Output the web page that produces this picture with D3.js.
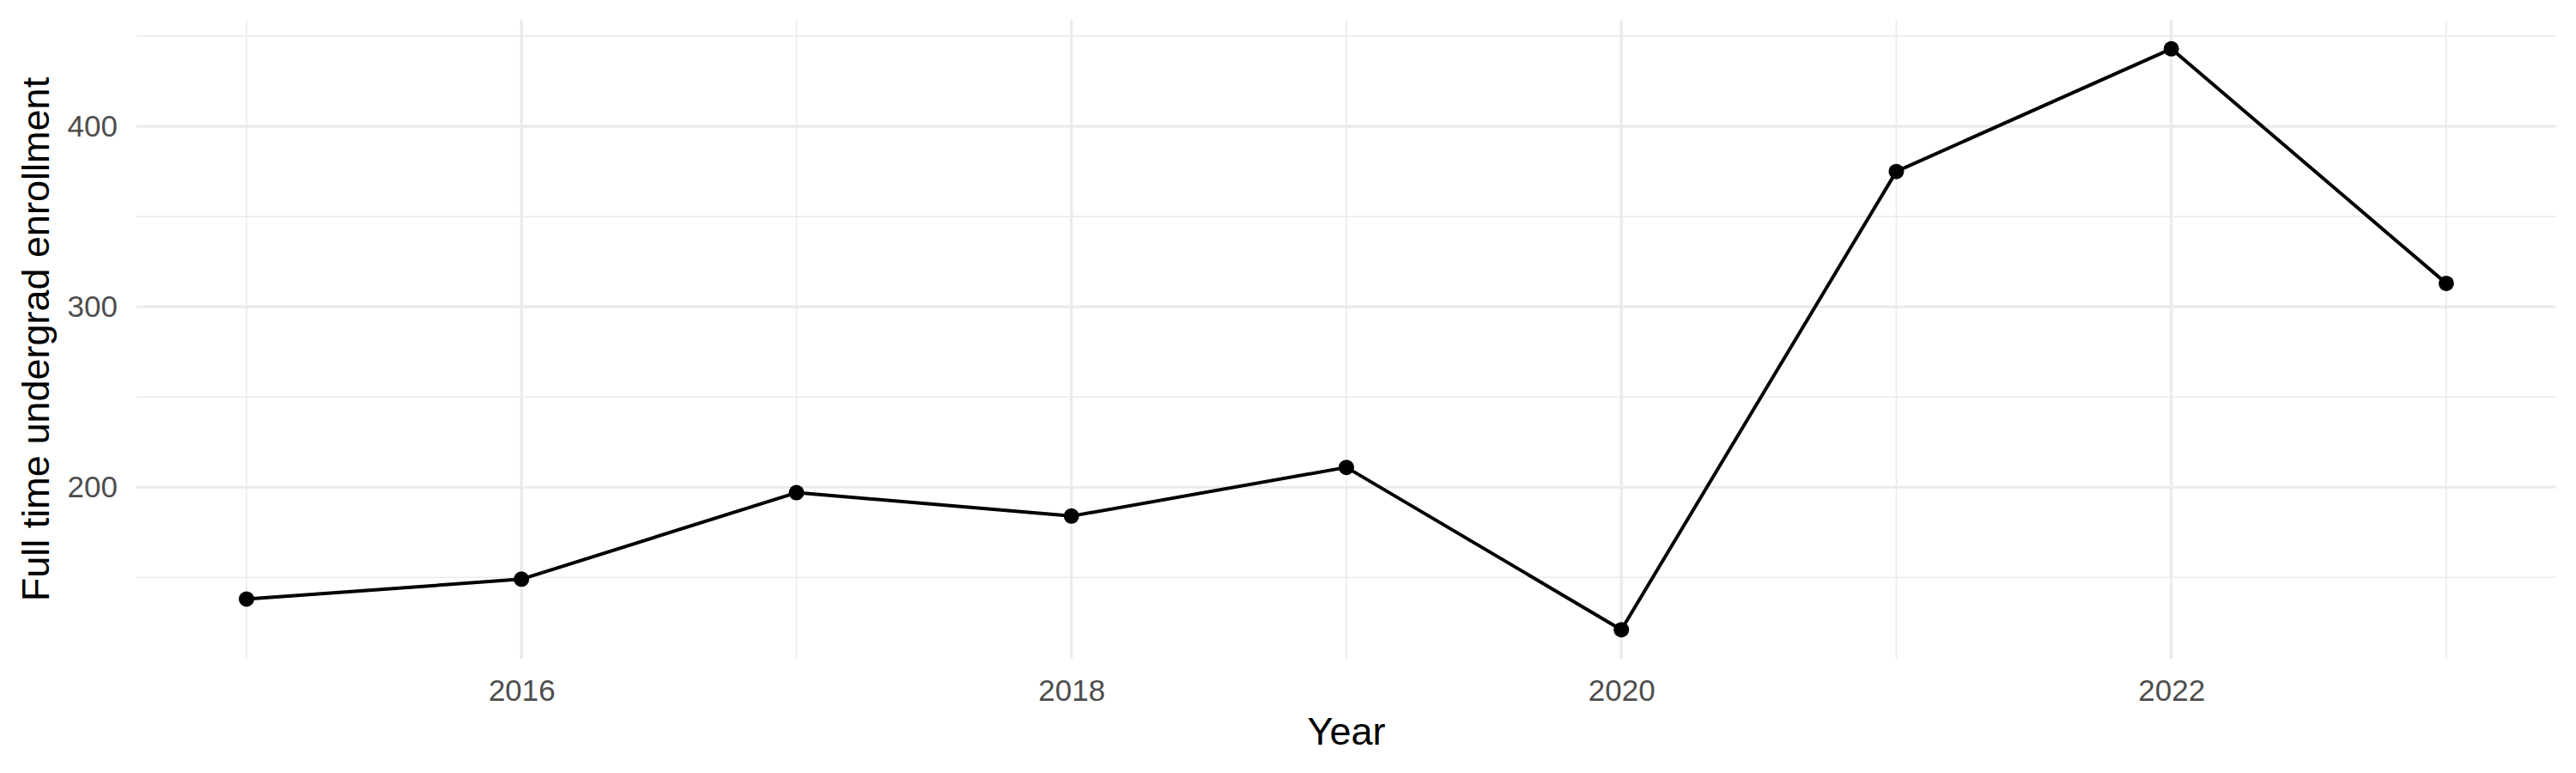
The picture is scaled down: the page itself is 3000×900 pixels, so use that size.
<!DOCTYPE html>
<html>
<head>
<meta charset="utf-8">
<script src="https://cdn.jsdelivr.net/npm/d3@7"></script>
<style>
  html, body { margin: 0; padding: 0; background: #fff; }
  text { font-family: "Liberation Sans", Arial, sans-serif; }
</style>
</head>
<body>
<div id="chart"></div>
<script>
// data
const years = [2015, 2016, 2017, 2018, 2019, 2020, 2021, 2022, 2023];
const enrollment = [138, 149, 197, 184, 211, 121, 375, 443, 313];

const xMajor = [2016, 2018, 2020, 2022];
const xMinor = [2015, 2017, 2019, 2021, 2023];
const yMajor = [200, 300, 400];
const yMinor = [150, 250, 350, 450];

const width = 3000, height = 900;
const panel = { left: 159, right: 2977, top: 23, bottom: 767 };

const svg = d3.select("#chart")
  .append("svg")
  .attr("width", width)
  .attr("height", height);

// ggplot style 5% expansion on both axes
const xExt = d3.extent(years);
const xPad = (xExt[1] - xExt[0]) * 0.05;
const xScale = d3.scaleLinear()
  .domain([xExt[0] - xPad, xExt[1] + xPad])
  .range([panel.left, panel.right]);

const yExt = d3.extent(enrollment);
const yPad = (yExt[1] - yExt[0]) * 0.05;
const yScale = d3.scaleLinear()
  .domain([yExt[0] - yPad, yExt[1] + yPad])
  .range([panel.bottom, panel.top]);

const grid = svg.append("g");

// minor grid
grid.selectAll(".xminor")
  .data(xMinor)
  .enter()
  .append("line")
  .attr("x1", d => xScale(d)).attr("x2", d => xScale(d))
  .attr("y1", panel.top).attr("y2", panel.bottom)
  .attr("stroke", "#ebebeb")
  .attr("stroke-width", 1.6);

grid.selectAll(".yminor")
  .data(yMinor)
  .enter()
  .append("line")
  .attr("x1", panel.left).attr("x2", panel.right)
  .attr("y1", d => yScale(d)).attr("y2", d => yScale(d))
  .attr("stroke", "#ebebeb")
  .attr("stroke-width", 1.6);

// major grid
grid.selectAll(".xmajor")
  .data(xMajor)
  .enter()
  .append("line")
  .attr("x1", d => xScale(d)).attr("x2", d => xScale(d))
  .attr("y1", panel.top).attr("y2", panel.bottom)
  .attr("stroke", "#ebebeb")
  .attr("stroke-width", 3.2);

grid.selectAll(".ymajor")
  .data(yMajor)
  .enter()
  .append("line")
  .attr("x1", panel.left).attr("x2", panel.right)
  .attr("y1", d => yScale(d)).attr("y2", d => yScale(d))
  .attr("stroke", "#ebebeb")
  .attr("stroke-width", 3.2);

// axes (no lines, just labels)
const xAxis = svg.append("g")
  .attr("transform", `translate(0,${panel.bottom})`)
  .call(d3.axisBottom(xScale).tickValues(xMajor).tickFormat(d3.format("d")).tickSize(0).tickPadding(24));
xAxis.select(".domain").remove();
xAxis.selectAll("text")
  .style("font-size", "35px")
  .style("font-family", "Liberation Sans, Arial, sans-serif")
  .attr("fill", "#4d4d4d");

const yAxis = svg.append("g")
  .attr("transform", `translate(${panel.left},0)`)
  .call(d3.axisLeft(yScale).tickValues(yMajor).tickSize(0).tickPadding(22));
yAxis.select(".domain").remove();
yAxis.selectAll("text")
  .style("font-size", "35px")
  .style("font-family", "Liberation Sans, Arial, sans-serif")
  .attr("fill", "#4d4d4d");

// line + points
const series = years.map((y, i) => ({ year: y, value: enrollment[i] }));

svg.append("path")
  .datum(series)
  .attr("fill", "none")
  .attr("stroke", "#000")
  .attr("stroke-width", 4)
  .attr("stroke-linejoin", "round")
  .attr("d", d3.line().x(d => xScale(d.year)).y(d => yScale(d.value)));

svg.selectAll(".pt")
  .data(series)
  .enter()
  .append("circle")
  .attr("cx", d => xScale(d.year))
  .attr("cy", d => yScale(d.value))
  .attr("r", 9)
  .attr("fill", "#000");

// axis titles
svg.append("text")
  .attr("x", (panel.left + panel.right) / 2)
  .attr("y", 867)
  .attr("text-anchor", "middle")
  .style("font-size", "45px")
  .attr("fill", "#000")
  .text("Year");

svg.append("text")
  .attr("transform", `translate(57,${(panel.top + panel.bottom) / 2}) rotate(-90)`)
  .attr("text-anchor", "middle")
  .style("font-size", "45px")
  .attr("fill", "#000")
  .text("Full time undergrad enrollment");
</script>
</body>
</html>
